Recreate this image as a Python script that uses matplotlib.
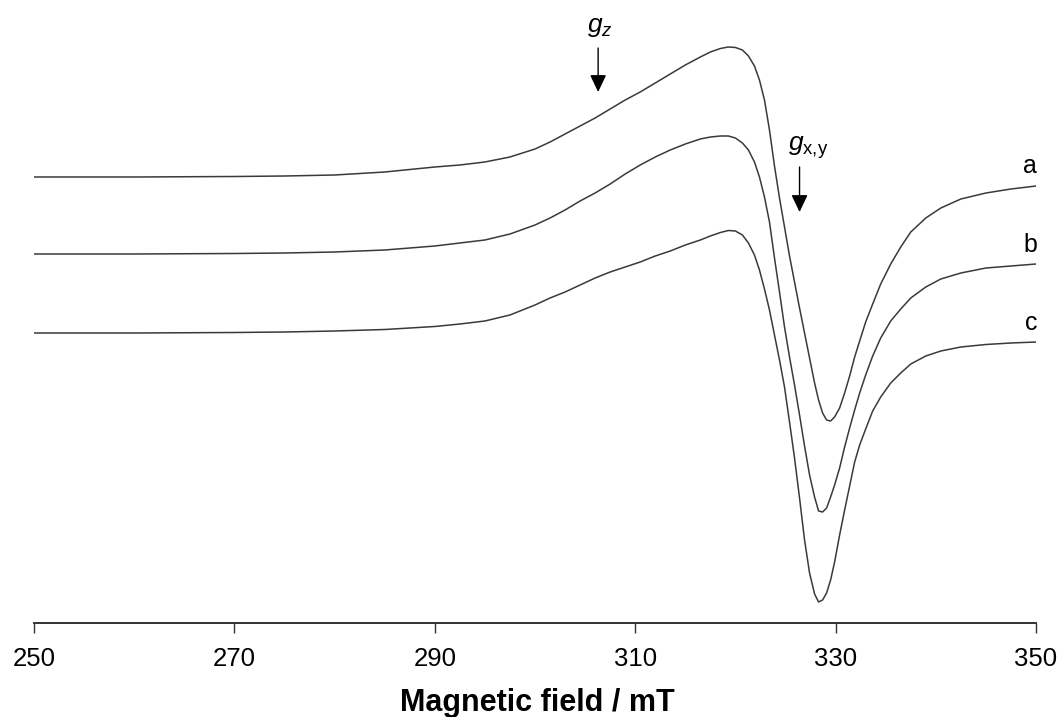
import matplotlib
matplotlib.use('Agg')
import matplotlib.pyplot as plt
import numpy as np

plt.rcParams['font.family'] = ['Liberation Sans', 'DejaVu Sans']
plt.rcParams['mathtext.fontset'] = 'custom'
plt.rcParams['mathtext.it'] = 'Liberation Sans:italic'
plt.rcParams['mathtext.rm'] = 'Liberation Sans'

field = [250, 260, 270, 275, 280, 285, 290, 292.5, 295, 297.5,
         300, 301.5, 303, 304.5, 306, 307.5, 309, 310.5, 312, 313.5,
         315, 316.5, 317.5, 318.5, 319.3, 320, 320.7, 321.3, 321.9, 322.4,
         322.9, 323.4, 323.9, 324.4, 324.9, 325.4, 325.9, 326.4, 326.9, 327.4,
         327.9, 328.3, 328.7, 329.1, 329.5, 329.9, 330.4, 330.9, 331.4, 331.9,
         332.4, 333, 333.7, 334.5, 335.5, 336.5, 337.5, 339, 340.5, 342.5,
         345, 347.5, 350]

# signal (arb. units, vertical offsets included)
signal_a = [446, 446, 446.5, 447, 448, 451, 456, 458, 461, 466,
            474, 481, 489, 497, 505, 514, 523, 531, 540, 549,
            558, 566, 571, 574.5, 576, 575.5, 573, 567, 557, 543,
            523, 493, 457, 425, 396, 367, 341, 315, 290, 265,
            240, 223, 210, 203, 202, 206, 215, 230, 247, 266,
            282, 301, 319, 339, 359, 376, 391, 405, 415, 424,
            430, 434, 437]
signal_b = [369, 369, 369.5, 370, 371, 373, 377, 380, 383, 389,
            398, 405, 413, 422, 430, 439, 449, 458, 466, 473,
            479, 484, 486, 487, 487, 485, 480, 473, 461, 446,
            426, 401, 365, 331, 296, 266, 238, 208, 177, 148,
            126, 112, 111, 115, 126, 138, 155, 176, 195, 213,
            230, 248, 267, 285, 302, 314, 325, 336, 344, 350,
            355, 357, 359]
signal_c = [290, 290, 290.5, 291, 292, 293.5, 296.5, 299, 302, 308,
            318, 325, 331, 338, 345, 351, 356, 361, 367, 372,
            378, 383, 387, 390.5, 392.5, 392, 388, 380, 368, 353,
            334, 313, 288, 263, 236, 201, 165, 125, 83, 50,
            29, 21, 23, 30, 43, 61, 88, 113, 137, 161,
            178, 194, 212, 226, 240, 250, 259, 267, 272, 276,
            278.5, 280, 281]

curve_labels = ['a', 'b', 'c']
label_y = [450, 371, 293]

x_ticks = [250, 270, 290, 310, 330, 350]

fig = plt.figure(figsize=(10.59, 7.17), dpi=100)
ax = fig.add_axes([0.0321, 0.1311, 0.9462, 0.8689])

for s in [signal_a, signal_b, signal_c]:
    ax.plot(field, s, color='#3a3a3a', lw=1.1)

ax.set_xlim(250, 350)
ax.set_ylim(0, 623)
ax.set_xticks(x_ticks)
ax.set_yticks([])
for side in ['left', 'top', 'right']:
    ax.spines[side].set_visible(False)
ax.spines['bottom'].set_linewidth(1.4)
ax.spines['bottom'].set_color('#333333')
ax.tick_params(axis='x', direction='out', length=7.2, width=1.0, color='#333333',
               pad=10, labelsize=18.5)

fig.text(0.507, 0.009, 'Magnetic field / mT', ha='center', va='baseline',
         fontsize=22, fontweight='bold')

# curve labels
for lab, y in zip(curve_labels, label_y):
    ax.text(350.1, y, lab, ha='right', va='baseline', fontsize=18)

# g markers
ax.text(305.2, 591, r'$g_z$', ha='left', va='baseline', fontsize=19)
ax.annotate('', xy=(306.3, 531), xytext=(306.3, 575),
            arrowprops=dict(arrowstyle='-|>,head_length=1.05,head_width=0.5',
                            color='black', lw=1.0, shrinkA=0, shrinkB=0))
ax.text(325.25, 472, r'$g_{\mathrm{x{,}y}}$', ha='left', va='baseline', fontsize=19)
ax.annotate('', xy=(326.4, 411), xytext=(326.4, 456),
            arrowprops=dict(arrowstyle='-|>,head_length=1.05,head_width=0.5',
                            color='black', lw=1.0, shrinkA=0, shrinkB=0))

plt.savefig('out.png', dpi=100)
